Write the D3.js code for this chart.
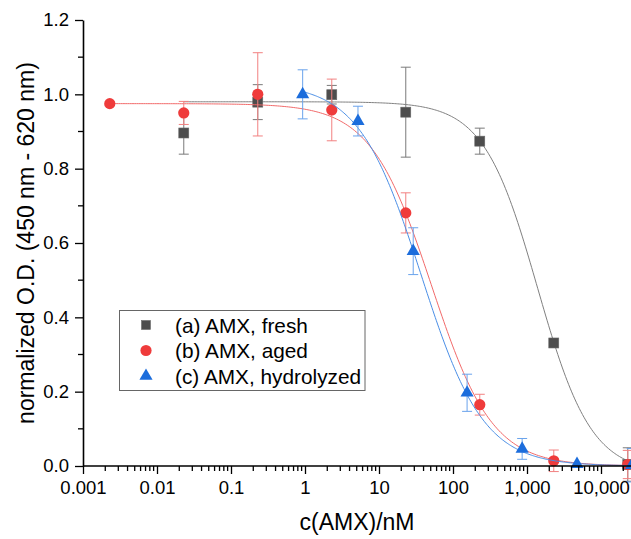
<!DOCTYPE html>
<html>
<head>
<meta charset="utf-8">
<script src="https://cdn.jsdelivr.net/npm/d3@7"></script>
<style>
  html, body { margin: 0; padding: 0; background: #fff; }
  svg { display: block; font-family: "Liberation Sans", Arial, sans-serif; }
</style>
</head>
<body>
<svg id="chart" width="631" height="539"></svg>
<script>
// ---- data ----
const seriesNames = ["(a) AMX, fresh", "(b) AMX, aged", "(c) AMX, hydrolyzed"];

const freshConc = [0.023, 0.23, 2.3, 23, 230, 2300, 23000];
const freshOD   = [0.896, 0.979, 0.999, 0.952, 0.874, 0.331, 0.004];
const freshErr  = [0.057, 0.047, 0.025, 0.121, 0.035, 0.0, 0.045];

const agedConc = [0.0023, 0.023, 0.23, 2.3, 23, 230, 2300, 23000];
const agedOD   = [0.975, 0.950, 1.000, 0.958, 0.681, 0.165, 0.014, 0.004];
const agedErr  = [0.0, 0.031, 0.112, 0.083, 0.054, 0.028, 0.029, 0.038];

const hydroConc = [0.93, 5.2, 29, 155, 860, 4740, 26000];
const hydroOD   = [1.000, 0.928, 0.578, 0.197, 0.046, 0.005, 0.002];
const hydroErr  = [0.066, 0.040, 0.063, 0.050, 0.028, 0.0, 0.045];

// dose-response fit parameters (top, bottom, IC50, Hill slope) per series
const fitTop    = [0.98, 0.975, 1.03];
const fitBottom = [-0.02, 0.0, 0.0];
const fitIC50   = [1386, 50.9, 37.0];
const fitHill   = [1.193, 1.056, 1.03];
const fitEnd    = 40000;

const xTickValues = [0.001, 0.01, 0.1, 1, 10, 100, 1000, 10000];
const xTickLabels = ["0.001", "0.01", "0.1", "1", "10", "100", "1,000", "10,000"];
const yTickValues = [0.0, 0.2, 0.4, 0.6, 0.8, 1.0, 1.2];
const yTickLabels = ["0.0", "0.2", "0.4", "0.6", "0.8", "1.0", "1.2"];

const xTitle = "c(AMX)/nM";
const yTitle = "normalized O.D. (450 nm - 620 nm)";

// ---- styles ----
const markerColors = ["#4d4d4d", "#ef3b3b", "#1c6ddc"];
const errColors    = ["#7a7a7a", "#f28080", "#6aa3ec"];
const lineColors   = ["#808080", "#f26a6a", "#4a8ee6"];

const svg = d3.select("#chart");
const x = d3.scaleLog().domain([1e-3, 1e5]).range([83, 83 + 74 * 8]);
const y = d3.scaleLinear().domain([0, 1.2]).range([466, 20]);

const series = [
  {conc: freshConc, od: freshOD, err: freshErr, shape: "square"},
  {conc: agedConc, od: agedOD, err: agedErr, shape: "circle"},
  {conc: hydroConc, od: hydroOD, err: hydroErr, shape: "triangle"}
];

const plot = svg.append("g");

function fitValue(i, c) {
  return fitBottom[i] + (fitTop[i] - fitBottom[i]) / (1 + Math.pow(c / fitIC50[i], fitHill[i]));
}

function drawMarker(g, shape, cx, cy, color, scale) {
  const s = scale || 1;
  if (shape === "square") {
    g.append("rect").attr("x", cx - 5 * s).attr("y", cy - 5 * s)
      .attr("width", 10 * s).attr("height", 10 * s)
      .attr("fill", color).attr("stroke", "#6a6a6a").attr("stroke-width", 0.6);
  } else if (shape === "circle") {
    g.append("circle").attr("cx", cx).attr("cy", cy).attr("r", 5.6 * s).attr("fill", color);
  } else {
    const sym = d3.symbol().type(d3.symbolTriangle).size(75 * s * s);
    g.append("path").attr("d", sym()).attr("transform", `translate(${cx},${cy})`).attr("fill", color);
  }
}

series.forEach((s, i) => {
  const g = plot.append("g");
  // fit curve
  const c0 = s.conc[0];
  const pts = d3.range(0, 301).map(k => {
    const c = Math.pow(10, Math.log10(c0) + (Math.log10(fitEnd) - Math.log10(c0)) * k / 300);
    return [c, fitValue(i, c)];
  });
  g.append("path")
    .attr("d", d3.line().x(d => x(d[0])).y(d => y(d[1]))(pts))
    .attr("fill", "none").attr("stroke", lineColors[i]).attr("stroke-width", 1);
  // error bars
  s.conc.forEach((c, j) => {
    if (!s.err[j]) return;
    const cx = x(c), y1 = y(s.od[j] + s.err[j]), y2 = y(s.od[j] - s.err[j]);
    g.append("line").attr("x1", cx).attr("x2", cx).attr("y1", y1).attr("y2", y2)
      .attr("stroke", errColors[i]).attr("stroke-width", 1);
    [y1, y2].forEach(yy => g.append("line").attr("x1", cx - 5).attr("x2", cx + 5)
      .attr("y1", yy).attr("y2", yy).attr("stroke", errColors[i]).attr("stroke-width", 1));
  });
  // markers
  s.conc.forEach((c, j) => drawMarker(g, s.shape, x(c), y(s.od[j]), markerColors[i]));
});

// ---- axes ----
const xAxis = d3.axisBottom(x).tickValues(xTickValues)
  .tickFormat((d, k) => xTickLabels[k]).tickSize(8).tickSizeOuter(0).tickPadding(7);
const gx = svg.append("g").attr("transform", "translate(0,466)").call(xAxis);
gx.select(".domain").attr("d", `M83,0H${631}`);

const minorX = [];
for (let e = -3; e <= 4; e++) for (let m = 2; m <= 9; m++) minorX.push(m * Math.pow(10, e));
gx.selectAll(".minor").data(minorX).enter().append("line")
  .attr("x1", d => x(d)).attr("x2", d => x(d)).attr("y1", 0).attr("y2", 5)
  .attr("stroke", "#000").attr("stroke-width", 1.3);

const yAxis = d3.axisLeft(y).tickValues(yTickValues)
  .tickFormat((d, k) => yTickLabels[k]).tickSize(8).tickSizeOuter(0).tickPadding(6);
const gy = svg.append("g").attr("transform", "translate(83,0)").call(yAxis);
const minorY = [0.1, 0.3, 0.5, 0.7, 0.9, 1.1];
gy.selectAll(".minor").data(minorY).enter().append("line")
  .attr("x1", 0).attr("x2", -5).attr("y1", d => y(d)).attr("y2", d => y(d))
  .attr("stroke", "#000").attr("stroke-width", 1.3);

[gx, gy].forEach(g => {
  g.select(".domain").attr("stroke", "#000").attr("stroke-width", 1.6);
  g.selectAll(".tick line").attr("stroke", "#000").attr("stroke-width", 1.3);
  g.selectAll(".tick text").attr("fill", "#000")
    .style("font-family", '"Liberation Sans", Arial, sans-serif').style("font-size", "18.5px");
});

// titles
svg.append("text").attr("x", 357).attr("y", 530).attr("text-anchor", "middle")
  .style("font-size", "23px").attr("fill", "#000").text(xTitle);
svg.append("text").attr("transform", "translate(34,243) rotate(-90)").attr("text-anchor", "middle")
  .style("font-size", "23px").attr("fill", "#000").text(yTitle);

// ---- legend ----
const lg = svg.append("g");
lg.append("rect").attr("x", 119.5).attr("y", 310.5).attr("width", 245.5).attr("height", 80)
  .attr("fill", "#fff").attr("stroke", "#666").attr("stroke-width", 1);
const shapes = ["square", "circle", "triangle"];
seriesNames.forEach((name, i) => {
  const cy = 325 + i * 25.5;
  drawMarker(lg, shapes[i], 146, cy, markerColors[i], i === 0 ? 0.9 : 1);
  lg.append("text").attr("x", 175).attr("y", cy + 7.5).style("font-size", "20.8px")
    .attr("fill", "#000").text(name);
});
</script>
</body>
</html>
